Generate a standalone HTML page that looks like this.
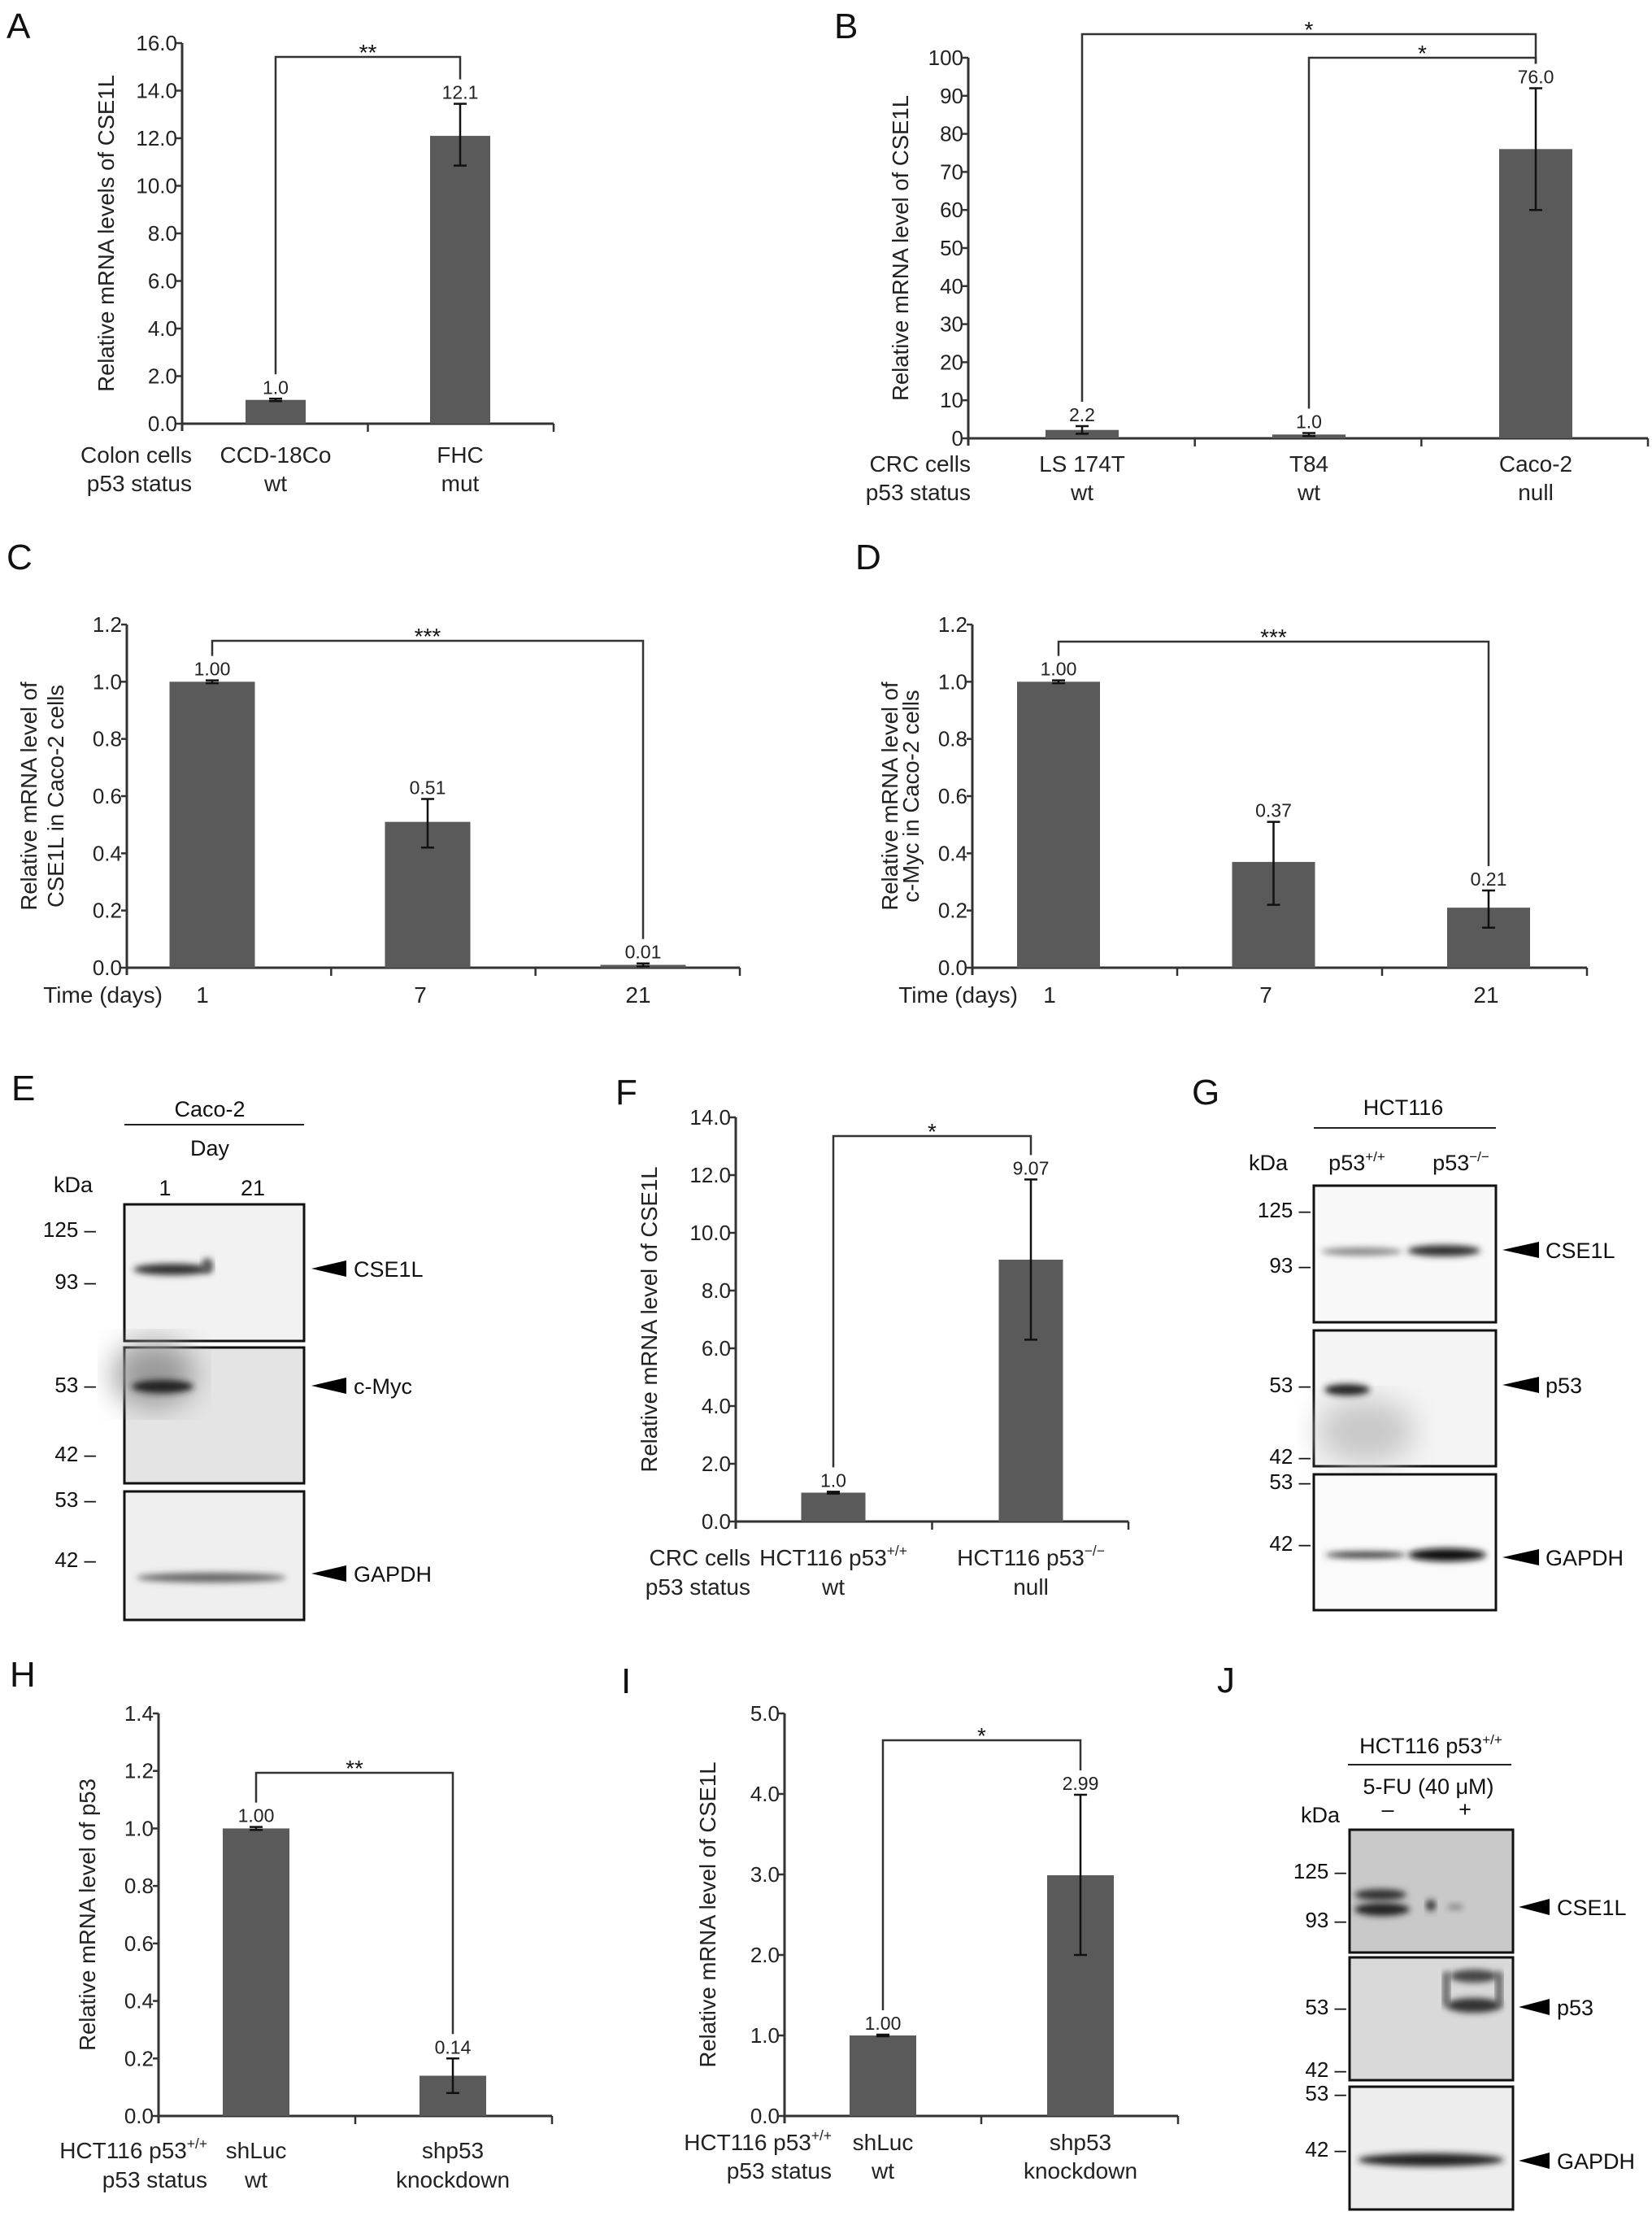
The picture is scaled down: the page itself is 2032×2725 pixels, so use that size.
<!DOCTYPE html>
<html><head><meta charset="utf-8"><style>
html,body{margin:0;padding:0;background:#fff;}
svg{display:block;font-family:"Liberation Sans",Arial,sans-serif;}
</style></head><body>
<svg id="fig" xmlns="http://www.w3.org/2000/svg" width="2032" height="2725" viewBox="0 0 2032 2725">
<defs>
<filter id="blur" x="-20%" y="-100%" width="140%" height="300%"><feGaussianBlur stdDeviation="4"/></filter>
<filter id="blur2" x="-20%" y="-20%" width="140%" height="140%"><feGaussianBlur stdDeviation="18"/></filter>
</defs>

<!-- Panel E blot -->
<g font-size="27" fill="#111">
<text x="14" y="1353" font-size="44">E</text>
<text x="258" y="1373" text-anchor="middle">Caco-2</text>
<line x1="153" y1="1383" x2="374" y2="1383" stroke="#222" stroke-width="2"/>
<text x="258" y="1421" text-anchor="middle">Day</text>
<text x="66" y="1466">kDa</text>
<text x="203" y="1470" text-anchor="middle">1</text>
<text x="311" y="1470" text-anchor="middle">21</text>
<g>
<rect x="153" y="1481" width="221" height="168" fill="#f2f2f2" stroke="#111" stroke-width="3"/>
<ellipse cx="212" cy="1561" rx="48" ry="7" fill="#333" filter="url(#blur)"/>
<ellipse cx="255" cy="1556" rx="7" ry="9" fill="#555" filter="url(#blur)"/>
</g>
<g>
<rect x="153" y="1657" width="221" height="167" fill="#e4e4e4" stroke="#111" stroke-width="3"/>
<ellipse cx="190" cy="1690" rx="50" ry="40" fill="#999" filter="url(#blur2)"/>
<ellipse cx="200" cy="1705" rx="38" ry="8" fill="#222" filter="url(#blur)"/>
</g>
<g>
<rect x="153" y="1834" width="221" height="158" fill="#efefef" stroke="#111" stroke-width="3"/>
<ellipse cx="260" cy="1940" rx="92" ry="6" fill="#666" filter="url(#blur)"/>
</g>
<g font-size="26" text-anchor="end">
<text x="118" y="1521">125 –</text><text x="118" y="1585">93 –</text>
<text x="118" y="1712">53 –</text><text x="118" y="1797">42 –</text>
<text x="118" y="1853">53 –</text><text x="118" y="1927">42 –</text>
</g>
<polygon points="383,1560 426,1550 426,1570" fill="#000"/><text x="435" y="1570">CSE1L</text>
<polygon points="383,1704 426,1694 426,1714" fill="#000"/><text x="435" y="1714">c-Myc</text>
<polygon points="383,1935 426,1925 426,1945" fill="#000"/><text x="435" y="1945">GAPDH</text>
</g>

<!-- Panel G blot -->
<g font-size="27" fill="#111">
<text x="1466" y="1358" font-size="44">G</text>
<text x="1726" y="1371" text-anchor="middle">HCT116</text>
<line x1="1616" y1="1387" x2="1840" y2="1387" stroke="#222" stroke-width="2"/>
<text x="1536" y="1439">kDa</text>
<text x="1669" y="1439" text-anchor="middle">p53<tspan font-size="17" dy="-11">+/+</tspan></text>
<text x="1797" y="1439" text-anchor="middle">p53<tspan font-size="17" dy="-11">−/−</tspan></text>
<g>
<rect x="1616" y="1458" width="224" height="168" fill="#f8f8f8" stroke="#111" stroke-width="3"/>
<ellipse cx="1675" cy="1539" rx="50" ry="5" fill="#888" filter="url(#blur)"/>
<ellipse cx="1776" cy="1538" rx="45" ry="7" fill="#333" filter="url(#blur)"/>
</g>
<g>
<rect x="1616" y="1636" width="224" height="167" fill="#f4f4f4" stroke="#111" stroke-width="3"/>
<ellipse cx="1680" cy="1760" rx="60" ry="40" fill="#c8c8c8" filter="url(#blur2)"/>
<ellipse cx="1657" cy="1709" rx="28" ry="7" fill="#222" filter="url(#blur)"/>
</g>
<g>
<rect x="1616" y="1813" width="224" height="167" fill="#fafafa" stroke="#111" stroke-width="3"/>
<ellipse cx="1680" cy="1912" rx="50" ry="4" fill="#333" filter="url(#blur)"/>
<ellipse cx="1780" cy="1912" rx="48" ry="8" fill="#111" filter="url(#blur)"/>
</g>
<g font-size="26" text-anchor="end">
<text x="1612" y="1497">125 –</text><text x="1612" y="1565">93 –</text>
<text x="1612" y="1712">53 –</text><text x="1612" y="1800">42 –</text>
<text x="1612" y="1831">53 –</text><text x="1612" y="1907">42 –</text>
</g>
<polygon points="1848,1537 1893,1527 1893,1547" fill="#000"/><text x="1901" y="1547">CSE1L</text>
<polygon points="1848,1703 1893,1693 1893,1713" fill="#000"/><text x="1901" y="1713">p53</text>
<polygon points="1848,1915 1893,1905 1893,1925" fill="#000"/><text x="1901" y="1925">GAPDH</text>
</g>

<!-- Panel J blot -->
<g font-size="27" fill="#111">
<text x="1497" y="2081" font-size="44">J</text>
<text x="1760" y="2156" text-anchor="middle">HCT116 p53<tspan font-size="17" dy="-11">+/+</tspan></text>
<line x1="1658" y1="2170" x2="1859" y2="2170" stroke="#222" stroke-width="2"/>
<text x="1757" y="2206" text-anchor="middle">5-FU (40 μM)</text>
<text x="1600" y="2241">kDa</text>
<text x="1707" y="2234" text-anchor="middle">–</text>
<text x="1802" y="2234" text-anchor="middle">+</text>
<g>
<rect x="1660" y="2250" width="201" height="151" fill="#c9c9c9" stroke="#111" stroke-width="3"/>
<ellipse cx="1698" cy="2330" rx="32" ry="7" fill="#333" filter="url(#blur)"/>
<ellipse cx="1700" cy="2348" rx="34" ry="8" fill="#222" filter="url(#blur)"/>
<ellipse cx="1760" cy="2343" rx="6" ry="7" fill="#333" filter="url(#blur)"/>
<ellipse cx="1790" cy="2345" rx="10" ry="3" fill="#777" filter="url(#blur)"/>
</g>
<g>
<rect x="1660" y="2407" width="201" height="151" fill="#d9d9d9" stroke="#111" stroke-width="3"/>
<ellipse cx="1813" cy="2430" rx="30" ry="8" fill="#444" filter="url(#blur)"/>
<ellipse cx="1813" cy="2466" rx="34" ry="9" fill="#333" filter="url(#blur)"/>
<rect x="1775" y="2425" width="8" height="42" fill="#555" filter="url(#blur)"/>
<rect x="1840" y="2425" width="8" height="42" fill="#555" filter="url(#blur)"/>
</g>
<g>
<rect x="1660" y="2566" width="201" height="151" fill="#ededed" stroke="#111" stroke-width="3"/>
<ellipse cx="1760" cy="2656" rx="90" ry="8" fill="#222" filter="url(#blur)"/>
</g>
<g font-size="26" text-anchor="end">
<text x="1656" y="2310">125 –</text><text x="1656" y="2370">93 –</text>
<text x="1656" y="2477">53 –</text><text x="1656" y="2554">42 –</text>
<text x="1656" y="2583">53 –</text><text x="1656" y="2652">42 –</text>
</g>
<polygon points="1868,2345 1906,2335 1906,2355" fill="#000"/><text x="1915" y="2355">CSE1L</text>
<polygon points="1868,2468 1906,2458 1906,2478" fill="#000"/><text x="1915" y="2478">p53</text>
<polygon points="1868,2657 1906,2647 1906,2667" fill="#000"/><text x="1915" y="2667">GAPDH</text>
</g>
</svg>

<script>
// ---- Data ----
const aCategories = ["CCD-18Co", "FHC"];
const aStatus = ["wt", "mut"];
const aValues = [1.0, 12.1];
const aErrLow = [0.95, 10.85];
const aErrHigh = [1.05, 13.45];
const aLabels = ["1.0", "12.1"];
const aTicks = [0, 2, 4, 6, 8, 10, 12, 14, 16];

const bCategories = ["LS 174T", "T84", "Caco-2"];
const bStatus = ["wt", "wt", "null"];
const bValues = [2.2, 1.0, 76.0];
const bErrLow = [1.2, 0.6, 60];
const bErrHigh = [3.2, 1.4, 92];
const bLabels = ["2.2", "1.0", "76.0"];
const bTicks = [0, 10, 20, 30, 40, 50, 60, 70, 80, 90, 100];

const cCategories = ["1", "7", "21"];
const cValues = [1.00, 0.51, 0.01];
const cErrLow = [0.995, 0.42, 0.005];
const cErrHigh = [1.005, 0.59, 0.015];
const cLabels = ["1.00", "0.51", "0.01"];
const cTicks = [0, 0.2, 0.4, 0.6, 0.8, 1.0, 1.2];

const dCategories = ["1", "7", "21"];
const dValues = [1.00, 0.37, 0.21];
const dErrLow = [0.995, 0.22, 0.14];
const dErrHigh = [1.005, 0.51, 0.27];
const dLabels = ["1.00", "0.37", "0.21"];
const dTicks = [0, 0.2, 0.4, 0.6, 0.8, 1.0, 1.2];

const fCategories = ["HCT116 p53|+/+", "HCT116 p53|−/−"];
const fStatus = ["wt", "null"];
const fValues = [1.0, 9.07];
const fErrLow = [0.97, 6.3];
const fErrHigh = [1.03, 11.85];
const fLabels = ["1.0", "9.07"];
const fTicks = [0, 2, 4, 6, 8, 10, 12, 14];

const hCategories = ["shLuc", "shp53"];
const hStatus = ["wt", "knockdown"];
const hValues = [1.00, 0.14];
const hErrLow = [0.995, 0.08];
const hErrHigh = [1.005, 0.20];
const hLabels = ["1.00", "0.14"];
const hTicks = [0, 0.2, 0.4, 0.6, 0.8, 1.0, 1.2, 1.4];

const iCategories = ["shLuc", "shp53"];
const iStatus = ["wt", "knockdown"];
const iValues = [1.00, 2.99];
const iErrLow = [0.99, 2.0];
const iErrHigh = [1.01, 3.99];
const iLabels = ["1.00", "2.99"];
const iTicks = [0, 1, 2, 3, 4, 5];

const NS = "http://www.w3.org/2000/svg";
const svg = document.getElementById("fig");
const TICK_FS = 26, VAL_FS = 23, CAT_FS = 28, TITLE_FS = 27.5;

function mk(parent, tag, attrs, text) {
  const el = document.createElementNS(NS, tag);
  for (const k in attrs) el.setAttribute(k, attrs[k]);
  if (text !== undefined) el.textContent = text;
  parent.appendChild(el);
  return el;
}
function nm(el, name) {
  
  
  return el;
}
function addLabelText(parent, x, y, str, size, anchor) {
  const t = mk(parent, "text", {x: x, y: y, "font-size": size, "text-anchor": anchor || "middle", fill: "#222"});
  const parts = str.split("|");
  t.appendChild(document.createTextNode(parts[0]));
  if (parts[1]) {
    mk(t, "tspan", {"font-size": size * 0.62, dy: -size * 0.42}, parts[1]);
  }
  return t;
}

function drawChart(cfg) {
  const g = mk(svg, "g", {});
  nm(g, cfg.id + "-chart");
  const yMax = cfg.ticks[cfg.ticks.length - 1];
  const yS = v => cfg.yBase - (v / yMax) * (cfg.yBase - cfg.yTop);
  const xS = i => cfg.first + i * cfg.step;

  const L = mk(g, "text", {x: cfg.letter[0], y: cfg.letter[1], "font-size": 44, fill: "#111"}, cfg.letter[2]);
  nm(L, "panel-letter-" + cfg.id);

  const ya = mk(g, "line", {x1: cfg.x0, y1: cfg.yTop, x2: cfg.x0, y2: cfg.yBase + 9, stroke: "#333", "stroke-width": 3});
  nm(ya, cfg.id + "-y-axis");
  const xa = mk(g, "line", {x1: cfg.x0, y1: cfg.yBase, x2: cfg.xEnd, y2: cfg.yBase, stroke: "#333", "stroke-width": 3});
  nm(xa, cfg.id + "-x-axis");
  const n = cfg.values.length;
  for (let k = 1; k <= n; k++) {
    const tx = cfg.x0 + (cfg.xEnd - cfg.x0) * k / n;
    const tk = mk(g, "line", {x1: tx, y1: cfg.yBase, x2: tx, y2: cfg.yBase + 10, stroke: "#333", "stroke-width": 2.5});
    nm(tk, cfg.id + "-x-tick");
  }
  cfg.ticks.forEach(v => {
    const y = yS(v);
    const tk = mk(g, "line", {x1: cfg.x0 - 7, y1: y, x2: cfg.x0, y2: y, stroke: "#333", "stroke-width": 2.5});
    nm(tk, cfg.id + "-y-tick");
    const tl = mk(g, "text", {x: cfg.x0 - 6, y: y + 9, "font-size": TICK_FS, "text-anchor": "end", fill: "#222"}, v.toFixed(cfg.dec));
    nm(tl, cfg.id + "-y-tick-label");
  });

  cfg.title.forEach((line, k) => {
    const cy = (cfg.yTop + cfg.yBase) / 2;
    const tx = cfg.titleX[k];
    const t = mk(g, "text", {x: tx, y: cy, "font-size": TITLE_FS, "text-anchor": "middle", fill: "#222", transform: "rotate(-90 " + tx + " " + cy + ")", dy: 9}, line);
    nm(t, cfg.id + "-y-axis-title");
  });

  const labelBase = [];
  cfg.values.forEach((v, i) => {
    const cx = xS(i);
    const b = mk(g, "rect", {x: cx - cfg.bw / 2, y: yS(v), width: cfg.bw, height: cfg.yBase - yS(v), fill: "#5a5a5a"});
    nm(b, cfg.id + "-bar-" + (i + 1));
    const eh = yS(cfg.hi[i]), el = yS(cfg.lo[i]);
    const e = mk(g, "path", {d: "M" + cx + " " + eh + "V" + el + "M" + (cx - 8) + " " + eh + "H" + (cx + 8) + "M" + (cx - 8) + " " + el + "H" + (cx + 8), stroke: "#111", "stroke-width": 2.5, fill: "none"});
    nm(e, cfg.id + "-error-bar-" + (i + 1));
    const by = eh - 6;
    labelBase.push(by);
    const vl = mk(g, "text", {x: cx, y: by, "font-size": VAL_FS, "text-anchor": "middle", fill: "#222"}, cfg.labels[i]);
    nm(vl, cfg.id + "-value-label-" + (i + 1));
    const c1 = addLabelText(g, cfg.catX ? cfg.catX[i] : cx, cfg.catY[0], cfg.cats[i], CAT_FS);
    nm(c1, cfg.id + "-category-label");
    if (cfg.status) {
      const c2 = addLabelText(g, cfg.catX ? cfg.catX[i] : cx, cfg.catY[1], cfg.status[i], CAT_FS);
      nm(c2, cfg.id + "-status-label");
    }
  });
  cfg.rows.forEach((r, k) => {
    const t = addLabelText(g, cfg.rowX, cfg.catY[k], r, CAT_FS, "end");
    nm(t, cfg.id + "-row-label");
  });
  cfg.brackets.forEach(br => {
    const x1 = xS(br[0]), x2 = xS(br[1]), y = br[2];
    const p = mk(g, "path", {d: "M" + x1 + " " + (labelBase[br[0]] - 24) + "V" + y + "H" + x2 + "V" + (labelBase[br[1]] - 24), stroke: "#333", "stroke-width": 2.5, fill: "none"});
    nm(p, cfg.id + "-significance-bracket");
    const s = mk(g, "text", {x: (x1 + x2) / 2, y: y + 4, "font-size": 28, "text-anchor": "middle", fill: "#111"}, br[3]);
    nm(s, cfg.id + "-significance-stars");
  });
}

drawChart({id: "a", letter: [8, 47, "A"], x0: 224, xEnd: 681, yTop: 53, yBase: 521, dec: 1, ticks: aTicks,
  first: 339, step: 227, bw: 74, values: aValues, lo: aErrLow, hi: aErrHigh, labels: aLabels,
  cats: aCategories, status: aStatus, catY: [569, 604], rows: ["Colon cells", "p53 status"], rowX: 236,
  title: ["Relative mRNA levels of CSE1L"], titleX: [131], brackets: [[0, 1, 70, "**"]]});

drawChart({id: "b", letter: [1026, 47, "B"], x0: 1191, xEnd: 2027, yTop: 71, yBase: 539, dec: 0, ticks: bTicks,
  first: 1331, step: 279, bw: 90, values: bValues, lo: bErrLow, hi: bErrHigh, labels: bLabels,
  cats: bCategories, status: bStatus, catY: [580, 615], rows: ["CRC cells", "p53 status"], rowX: 1194,
  title: ["Relative mRNA level of CSE1L"], titleX: [1108], brackets: [[0, 2, 42, "*"], [1, 2, 71, "*"]]});

drawChart({id: "c", letter: [8, 700, "C"], x0: 156, xEnd: 910, yTop: 768, yBase: 1190, dec: 1, ticks: cTicks,
  first: 261, step: 265, bw: 105, values: cValues, lo: cErrLow, hi: cErrHigh, labels: cLabels,
  cats: cCategories, catX: [249, 517, 785], catY: [1233], rows: ["Time (days)"], rowX: 200,
  title: ["Relative mRNA level of", "CSE1L in Caco-2 cells"], titleX: [36, 69], brackets: [[0, 2, 788, "***"]]});

drawChart({id: "d", letter: [1052, 700, "D"], x0: 1196, xEnd: 1952, yTop: 768, yBase: 1190, dec: 1, ticks: dTicks,
  first: 1302, step: 264.5, bw: 102, values: dValues, lo: dErrLow, hi: dErrHigh, labels: dLabels,
  cats: dCategories, catX: [1291, 1557, 1828], catY: [1233], rows: ["Time (days)"], rowX: 1252,
  title: ["Relative mRNA level of", "c-Myc in Caco-2 cells"], titleX: [1095, 1121], brackets: [[0, 2, 789, "***"]]});

drawChart({id: "f", letter: [757, 1358, "F"], x0: 905, xEnd: 1388, yTop: 1374, yBase: 1871, dec: 1, ticks: fTicks,
  first: 1025, step: 243, bw: 79, values: fValues, lo: fErrLow, hi: fErrHigh, labels: fLabels,
  cats: fCategories, status: fStatus, catY: [1925, 1961], rows: ["CRC cells", "p53 status"], rowX: 923,
  title: ["Relative mRNA level of CSE1L"], titleX: [799], brackets: [[0, 1, 1397, "*"]]});

drawChart({id: "h", letter: [12, 2074, "H"], x0: 195, xEnd: 679, yTop: 2107, yBase: 2602, dec: 1, ticks: hTicks,
  first: 315, step: 242, bw: 82, values: hValues, lo: hErrLow, hi: hErrHigh, labels: hLabels,
  cats: hCategories, status: hStatus, catY: [2654, 2690], rows: ["HCT116 p53|+/+", "p53 status"], rowX: 255,
  title: ["Relative mRNA level of p53"], titleX: [108], brackets: [[0, 1, 2180, "**"]]});

drawChart({id: "i", letter: [764, 2082, "I"], x0: 965, xEnd: 1449, yTop: 2107, yBase: 2602, dec: 1, ticks: iTicks,
  first: 1086, step: 243, bw: 82, values: iValues, lo: iErrLow, hi: iErrHigh, labels: iLabels,
  cats: iCategories, status: iStatus, catY: [2644, 2679], rows: ["HCT116 p53|+/+", "p53 status"], rowX: 1023,
  title: ["Relative mRNA level of CSE1L"], titleX: [871], brackets: [[0, 1, 2140, "*"]]});
</script>
</body></html>
